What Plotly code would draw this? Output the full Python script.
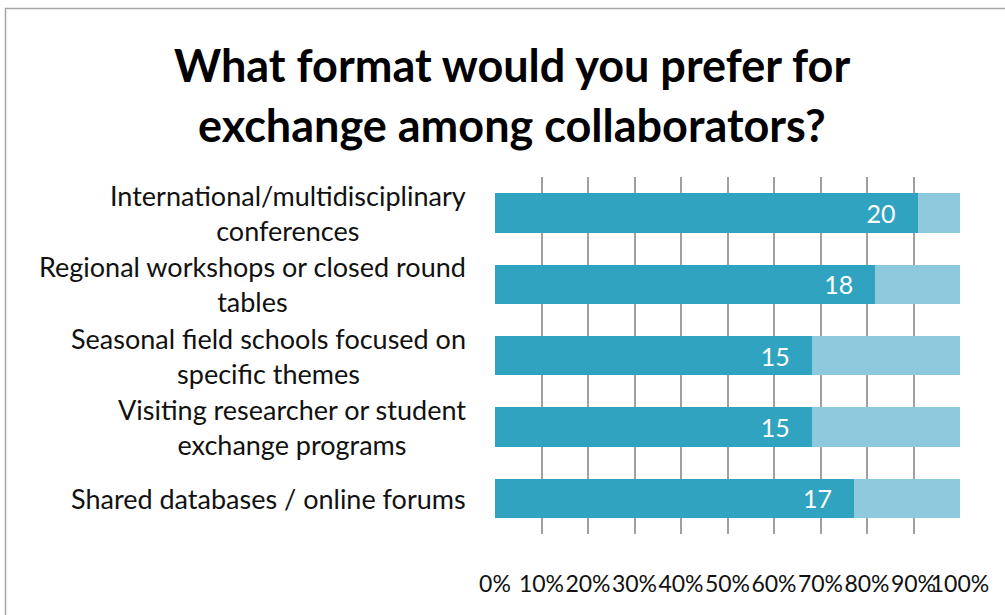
import plotly.graph_objects as go

# Survey answers: count of respondents choosing each format, and the remainder
categories = [
    "International/multidisciplinary<br>conferences",
    "Regional workshops or closed round<br>tables",
    "Seasonal field schools focused on<br>specific themes",
    "Visiting researcher or student<br>exchange programs",
    "Shared databases / online forums",
]
yes_counts = [20, 18, 15, 15, 17]
other_counts = [2, 4, 7, 7, 5]
tick_vals = [0, 10, 20, 30, 40, 50, 60, 70, 80, 90, 100]
tick_text = [f"{v}%" for v in tick_vals]
title_lines = ["What format would you prefer for", "exchange among collaborators?"]

FONT = "Lato, 'Open Sans', sans-serif"
TEAL = "#2fa3c0"
LIGHT = "#8ec8dc"

W, H = 1005, 615
ML, MR, MT, MB = 495, 45, 177, 81
plot_w = W - ML - MR
plot_h = H - MT - MB

def px_to_paper_x(px):
    return (px - ML) / plot_w

def px_to_paper_y(py):
    return (H - MB - py) / plot_h

fig = go.Figure()
fig.add_trace(go.Bar(
    y=categories, x=yes_counts, orientation="h",
    marker=dict(color=TEAL, line=dict(width=0)),
    text=[f"{v}\u00a0\u00a0\u00a0" for v in yes_counts],
    textposition="inside", insidetextanchor="end",
    textfont=dict(family=FONT, size=25, color="white"),
    hoverinfo="skip",
))
fig.add_trace(go.Bar(
    y=categories, x=other_counts, orientation="h",
    marker=dict(color=LIGHT, line=dict(width=0)),
    hoverinfo="skip",
))

# category labels: right-anchored blocks with centred lines
for cat in categories:
    fig.add_annotation(
        x=px_to_paper_x(468), xref="paper", y=cat, yref="y",
        text=cat, showarrow=False, xanchor="right", yanchor="middle",
        align="center", font=dict(family=FONT, size=27, color="#111111"),
    )

# two-line title
for line, py in zip(title_lines, [65, 125]):
    fig.add_annotation(
        x=px_to_paper_x(512), xref="paper", y=px_to_paper_y(py), yref="paper",
        text=f"<b>{line}</b>", showarrow=False, xanchor="center", yanchor="middle",
        font=dict(family=FONT, size=45, color="black"),
    )

# outer chart frame
fig.add_shape(
    type="rect", xref="paper", yref="paper", layer="below",
    x0=px_to_paper_x(5.5), x1=px_to_paper_x(1200),
    y0=px_to_paper_y(900), y1=px_to_paper_y(8.5),
    line=dict(color="#a6a6a6", width=1.5), fillcolor="rgba(0,0,0,0)",
)

fig.update_layout(
    width=W, height=H,
    margin=dict(l=ML, r=MR, t=MT, b=MB, autoexpand=False),
    barmode="stack", barnorm="percent", bargap=0.45,
    showlegend=False,
    paper_bgcolor="white", plot_bgcolor="white",
    xaxis=dict(
        range=[0, 100], tickvals=tick_vals, ticktext=tick_text,
        tickangle=0, automargin=False,
        showgrid=True, gridcolor="#a0a0a0", gridwidth=1.5,
        zeroline=False, showline=False, ticks="",
        tickfont=dict(family=FONT, size=23, color="#111111"),
        ticklabelstandoff=34, fixedrange=True,
    ),
    yaxis=dict(
        autorange="reversed", showticklabels=False, showgrid=False,
        zeroline=False, showline=False, fixedrange=True, automargin=False,
    ),
)

fig.write_html("out.html")
